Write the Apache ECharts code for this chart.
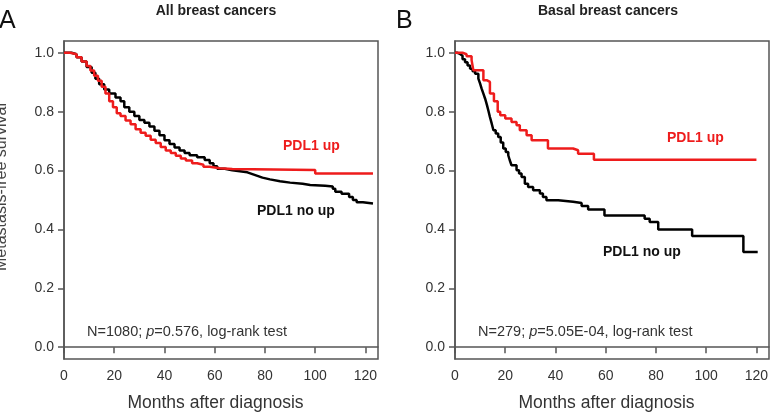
<!DOCTYPE html>
<html>
<head>
<meta charset="utf-8">
<script src="https://cdn.jsdelivr.net/npm/echarts@6/dist/echarts.min.js"></script>
<style>
  html, body { margin: 0; padding: 0; background: #fff; }
  #chart { width: 776px; height: 414px; }
</style>
</head>
<body>
<div id="chart"></div>
<script>
// tick labels
var xTicks = [0, 20, 40, 60, 80, 100, 120];
var yTicks = [0, 0.2, 0.4, 0.6, 0.8, 1.0];

// A: all breast cancers, PDL1 no up (months, survival)
var allNoUpT = [0, 3, 5, 7, 9, 11, 12.5, 14, 16, 18, 20.5, 22.5, 24, 26, 28, 30, 32, 34, 36, 38, 40, 42, 44, 46, 48, 50, 53, 56, 58, 59.5, 61, 64, 67, 70, 73, 75, 77, 79, 82, 86, 90, 95, 98, 104, 107, 108, 110.5, 113.5, 115, 116.5, 119, 123];
var allNoUpS = [1.0, 0.995, 0.985, 0.970, 0.952, 0.932, 0.912, 0.893, 0.875, 0.862, 0.848, 0.835, 0.815, 0.800, 0.785, 0.772, 0.762, 0.750, 0.735, 0.720, 0.703, 0.690, 0.678, 0.668, 0.660, 0.652, 0.645, 0.636, 0.625, 0.615, 0.606, 0.601, 0.598, 0.594, 0.588, 0.582, 0.576, 0.570, 0.564, 0.559, 0.555, 0.551, 0.548, 0.546, 0.538, 0.528, 0.521, 0.510, 0.500, 0.492, 0.488, 0.488];

// A: all breast cancers, PDL1 up
var allUpT = [0, 2.5, 5, 7, 9, 10.5, 12, 13.5, 15, 16.5, 18, 19.5, 21, 22.5, 24.5, 26.5, 28.5, 30.5, 32.5, 34.5, 36.5, 38.5, 40.5, 42.5, 44.5, 46.5, 48.5, 51, 53, 55.5, 58, 62, 67, 100, 123];
var allUpS = [1.0, 0.995, 0.985, 0.970, 0.955, 0.940, 0.922, 0.905, 0.885, 0.862, 0.835, 0.815, 0.795, 0.785, 0.770, 0.757, 0.740, 0.728, 0.718, 0.705, 0.694, 0.680, 0.668, 0.660, 0.650, 0.641, 0.634, 0.625, 0.620, 0.613, 0.608, 0.605, 0.602, 0.590, 0.590];

// B: basal breast cancers, PDL1 no up
var basalNoUpT = [0, 1, 2, 3, 4, 5, 6, 7, 8, 9.3, 10, 10.6, 11.3, 12, 12.7, 13.3, 13.9, 14.6, 15.3, 16.2, 17.2, 18.2, 19.2, 20.2, 21.2, 21.8, 22.5, 24.5, 25.5, 26.5, 27.8, 29.1, 31.1, 33.8, 35, 36.4, 41.1, 47, 50.4, 53, 59.5, 75.5, 77.5, 80.9, 94.4, 114.8, 120.5];
var basalNoUpS = [1.0, 0.996, 0.990, 0.978, 0.968, 0.957, 0.946, 0.937, 0.929, 0.912, 0.895, 0.878, 0.861, 0.844, 0.823, 0.803, 0.782, 0.760, 0.737, 0.726, 0.714, 0.695, 0.675, 0.663, 0.652, 0.635, 0.618, 0.601, 0.590, 0.578, 0.555, 0.544, 0.533, 0.522, 0.510, 0.499, 0.494, 0.490, 0.480, 0.468, 0.447, 0.436, 0.425, 0.400, 0.378, 0.323, 0.323];

// B: basal breast cancers, PDL1 up
var basalUpT = [0, 3, 4.6, 6.6, 7.3, 11.3, 12.6, 13.9, 15.5, 17, 18, 20, 22.5, 24.5, 25.8, 28.5, 30.5, 37, 47, 49, 55.3, 120];
var basalUpS = [1.0, 0.995, 0.988, 0.975, 0.941, 0.907, 0.901, 0.862, 0.835, 0.800, 0.788, 0.777, 0.765, 0.754, 0.737, 0.720, 0.703, 0.675, 0.669, 0.657, 0.637, 0.637];

function pairs(t, s) {
  return t.map(function (v, i) { return [v, s[i]]; });
}

var FONT = '"Liberation Sans", Arial, sans-serif';
var AXIS_COLOR = '#555';
var TEXT_COLOR = '#333';
var RED = '#ee1c1c';

function makeX(idx) {
  return {
    type: 'value', gridIndex: idx, min: 0, max: 125,
    name: 'Months after diagnosis', nameLocation: 'middle', nameGap: 35,
    nameTextStyle: { fontFamily: FONT, fontSize: 17.5, color: TEXT_COLOR, padding: [0, 11, 0, 0] },
    axisLine: { show: true, lineStyle: { color: AXIS_COLOR, width: 1.5 } },
    axisTick: { show: true, length: 6, customValues: xTicks, lineStyle: { color: AXIS_COLOR, width: 1.5 } },
    axisLabel: { customValues: xTicks, margin: 10, fontFamily: FONT, fontSize: 14, color: TEXT_COLOR },
    splitLine: { show: false }
  };
}

function makeY(idx) {
  return {
    type: 'value', gridIndex: idx, min: -0.04, max: 1.04,
    axisLine: { show: true, lineStyle: { color: AXIS_COLOR, width: 1.5 } },
    axisTick: { show: true, length: 6, customValues: yTicks, lineStyle: { color: AXIS_COLOR, width: 1.5 } },
    axisLabel: {
      customValues: yTicks, margin: 10, fontFamily: FONT, fontSize: 14, color: TEXT_COLOR,
      formatter: function (v) { return v.toFixed(1); }
    },
    splitLine: { show: false }
  };
}

function kmLine(idx, data, color) {
  return {
    type: 'line', xAxisIndex: idx, yAxisIndex: idx, step: 'end',
    showSymbol: false, animation: false, data: data,
    lineStyle: { color: color, width: 2.5 }
  };
}

function label(x, y, txt, color, size) {
  return {
    type: 'text', left: x, top: y,
    style: { text: txt, fill: color, font: 'bold ' + size + 'px ' + FONT }
  };
}

function testNote(x, txt) {
  return {
    type: 'text', left: x, top: 324,
    style: {
      text: txt, fill: TEXT_COLOR, font: '14.5px ' + FONT,
      rich: { i: { fontStyle: 'italic', fontFamily: FONT, fontSize: 14.5, fill: TEXT_COLOR } }
    }
  };
}

// plain box, no automatic shrinking to fit names
var gridBox = { show: true, borderColor: AXIS_COLOR, borderWidth: 1.5, backgroundColor: 'transparent', outerBoundsMode: 'none', containLabel: false };

var option = {
  backgroundColor: '#fff',
  animation: false,
  grid: [
    Object.assign({ left: 64, top: 41, width: 314, height: 318 }, gridBox),
    Object.assign({ left: 455, top: 41, width: 314, height: 318 }, gridBox)
  ],
  xAxis: [makeX(0), makeX(1)],
  yAxis: [makeY(0), makeY(1)],
  series: [
    kmLine(0, pairs(allNoUpT, allNoUpS), '#000'),
    kmLine(0, pairs(allUpT, allUpS), RED),
    kmLine(1, pairs(basalNoUpT, basalNoUpS), '#000'),
    kmLine(1, pairs(basalUpT, basalUpS), RED)
  ],
  graphic: [
    // panel letters and titles
    { type: 'text', left: -1, top: 9, style: { text: 'A', fill: '#111', font: '25px ' + FONT } },
    { type: 'text', left: 396, top: 9, style: { text: 'B', fill: '#111', font: '25px ' + FONT } },
    { type: 'text', x: 216, y: 11, style: { text: 'All breast cancers', fill: '#222', font: 'bold 14px ' + FONT, align: 'center', verticalAlign: 'middle' } },
    { type: 'text', x: 608, y: 11, style: { text: 'Basal breast cancers', fill: '#222', font: 'bold 14px ' + FONT, align: 'center', verticalAlign: 'middle' } },
    // y axis title, cut at the left edge
    {
      type: 'text', x: 2, y: 187, rotation: Math.PI / 2,
      style: { text: 'Metastasis-free survival', fill: '#444', font: '16px ' + FONT, align: 'center', verticalAlign: 'middle' }
    },
    // curve labels
    label(283, 139, 'PDL1 up', RED, 14),
    label(257, 204, 'PDL1 no up', '#111', 14),
    label(667, 131, 'PDL1 up', RED, 14),
    label(603, 245, 'PDL1 no up', '#111', 14),
    // test results
    testNote(87, 'N=1080; {i|p}=0.576, log-rank test'),
    testNote(478, 'N=279; {i|p}=5.05E-04, log-rank test')
  ]
};

var chart = echarts.init(document.getElementById('chart'));
chart.setOption(option);
</script>
</body>
</html>
